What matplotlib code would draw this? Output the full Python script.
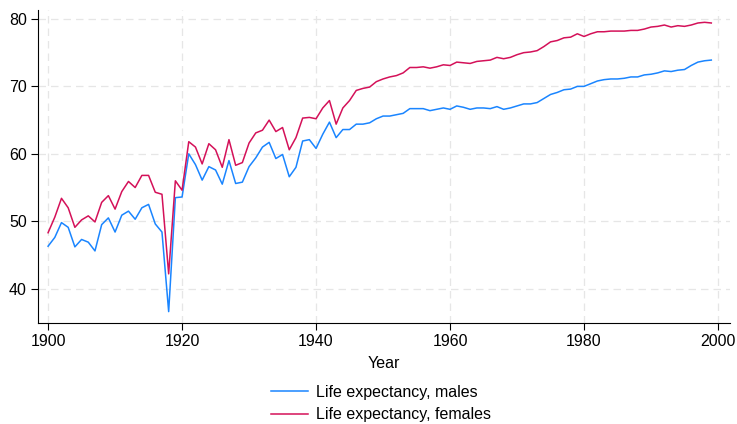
import matplotlib
matplotlib.use("Agg")
import matplotlib.pyplot as plt
import numpy as np

years = np.arange(1900, 2000)

le_male = [
    46.3, 47.6, 49.8, 49.1, 46.2, 47.3, 46.9, 45.6, 49.5, 50.5,
    48.4, 50.9, 51.5, 50.3, 52.0, 52.5, 49.6, 48.4, 36.6, 53.5,
    53.6, 60.0, 58.4, 56.1, 58.1, 57.6, 55.5, 59.0, 55.6, 55.8,
    58.1, 59.4, 61.0, 61.7, 59.3, 59.9, 56.6, 58.0, 61.9, 62.1,
    60.8, 62.9, 64.7, 62.4, 63.6, 63.6, 64.4, 64.4, 64.6, 65.2,
    65.6, 65.6, 65.8, 66.0, 66.7, 66.7, 66.7, 66.4, 66.6, 66.8,
    66.6, 67.1, 66.9, 66.6, 66.8, 66.8, 66.7, 67.0, 66.6, 66.8,
    67.1, 67.4, 67.4, 67.6, 68.2, 68.8, 69.1, 69.5, 69.6, 70.0,
    70.0, 70.4, 70.8, 71.0, 71.1, 71.1, 71.2, 71.4, 71.4, 71.7,
    71.8, 72.0, 72.3, 72.2, 72.4, 72.5, 73.1, 73.6, 73.8, 73.9,
]

le_female = [
    48.3, 50.6, 53.4, 52.0, 49.1, 50.2, 50.8, 49.9, 52.8, 53.8,
    51.8, 54.4, 55.9, 55.0, 56.8, 56.8, 54.3, 54.0, 42.2, 56.0,
    54.6, 61.8, 61.0, 58.5, 61.5, 60.6, 58.0, 62.1, 58.3, 58.7,
    61.6, 63.1, 63.5, 65.0, 63.3, 63.9, 60.6, 62.4, 65.3, 65.4,
    65.2, 66.8, 67.9, 64.4, 66.8, 67.9, 69.4, 69.7, 69.9, 70.7,
    71.1, 71.4, 71.6, 72.0, 72.8, 72.8, 72.9, 72.7, 72.9, 73.2,
    73.1, 73.6, 73.5, 73.4, 73.7, 73.8, 73.9, 74.3, 74.1, 74.3,
    74.7, 75.0, 75.1, 75.3, 75.9, 76.6, 76.8, 77.2, 77.3, 77.8,
    77.4, 77.8, 78.1, 78.1, 78.2, 78.2, 78.2, 78.3, 78.3, 78.5,
    78.8, 78.9, 79.1, 78.8, 79.0, 78.9, 79.1, 79.4, 79.5, 79.4,
]

x_ticks = [1900, 1920, 1940, 1960, 1980, 2000]
y_ticks = [40, 50, 60, 70, 80]

plt.rcParams["font.family"] = ["Liberation Sans", "DejaVu Sans"]

fig = plt.figure(figsize=(7.37, 4.24), dpi=100)
ax = fig.add_axes([0.0516, 0.238, 0.939, 0.738])

ax.plot(years, le_male, color="#1a85ff", lw=1.1, label="Life expectancy, males")
ax.plot(years, le_female, color="#d41159", lw=1.1, label="Life expectancy, females")

ax.set_xlim(1898.5, 2001.8)
ax.set_ylim(34.9, 81.3)
ax.set_xticks(x_ticks)
ax.set_yticks(y_ticks)
ax.grid(True, color="#e6e6e6", linestyle=(0, (6, 4)), lw=0.9)
ax.set_axisbelow(True)
for s in ["top", "right"]:
    ax.spines[s].set_visible(False)
ax.spines["left"].set_linewidth(0.8)
ax.spines["bottom"].set_linewidth(0.8)
ax.tick_params(axis="both", labelsize=11.5, length=5, width=0.8, colors="black", pad=3)
ax.set_xlabel("Year", fontsize=11.5, labelpad=5)

fig.legend(loc="center", bbox_to_anchor=(0.517, 0.048), frameon=False,
           fontsize=11.5, handlelength=2.3, handletextpad=0.5, labelspacing=0.45)

fig.savefig("out.png", dpi=100)
